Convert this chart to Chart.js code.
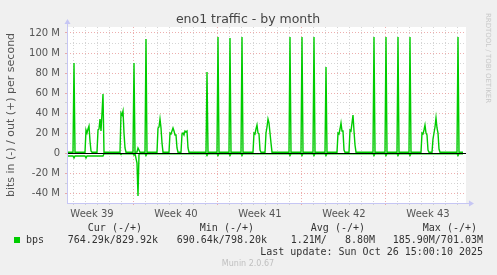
<!DOCTYPE html>
<html>
<head>
<meta charset="utf-8">
<script src="https://cdn.jsdelivr.net/npm/chart.js@4/dist/chart.umd.min.js"></script>
<style>
  html, body { margin: 0; padding: 0; background: #f0f0f0; }
  #wrap { width: 497px; height: 275px; }
</style>
</head>
<body>
<div id="wrap"><canvas id="grafico" width="497" height="275"></canvas></div>
<script>
// hours from left edge of the graph (Tue Sep 23 12:00), values in Mbit/s
const outHours = [0, 12, 14, 16, 36, 38, 40, 42, 44, 46, 48, 50, 60, 62, 64, 66, 68, 70, 72, 74,
  106, 108, 110, 112, 114, 116, 118, 132, 134, 136, 140, 142, 144, 146, 156, 158, 160,
  180, 182, 184, 186, 188, 190, 192, 204, 206, 208, 210, 212, 214, 216, 218, 220, 222,
  228, 230, 232, 234, 236, 238, 240, 242, 244, 278, 280, 282, 300, 302, 304, 324, 326, 328,
  348, 350, 352, 372, 374, 376, 378, 380, 382, 384, 386, 388, 396, 398, 400, 402, 404, 406, 408, 410,
  444, 446, 448, 468, 470, 472, 492, 494, 496, 516, 518, 520,
  540, 542, 544, 546, 548, 550, 552, 554, 556, 564, 566, 568, 570, 572, 574, 576, 578,
  612, 614, 616, 636, 638, 640, 660, 662, 664, 684, 686, 688,
  708, 710, 712, 714, 716, 718, 720, 722, 724, 730, 732, 734, 736, 738, 740, 742, 744, 746,
  780, 782, 784, 792]
const outValues = [0.8, 0.8, 90, 0.8, 0.8, 23, 20, 24, 27, 12, 2, 0.8, 0.8, 23, 24, 34, 22, 40, 59, 0.8,
  0.8, 40, 38, 42, 20, 5, 0.8, 0.8, 90, 0.8, 1, 5, 3, 0.8, 0.8, 114, 0.8,
  0.8, 25, 26, 34, 25, 10, 0.8, 0.8, 20, 19, 22, 25, 22, 18, 18, 5, 0.8,
  0.8, 19, 20, 18, 22, 21, 22, 5, 0.8, 0.8, 81, 0.8, 0.8, 116, 0.8, 0.8, 115, 0.8,
  0.8, 116, 0.8, 0.8, 20, 19, 24, 28, 20, 19, 3, 0.8, 0.8, 20, 26, 34, 30, 20, 10, 0.8,
  0.8, 116, 0.8, 0.8, 116, 0.8, 0.8, 116, 0.8, 0.8, 86, 0.8,
  0.8, 20, 19, 24, 30, 22, 22, 3, 0.8, 0.8, 23, 22, 30, 38, 22, 8, 0.8,
  0.8, 116, 0.8, 0.8, 116, 0.8, 0.8, 116, 0.8, 0.8, 116, 0.8,
  0.8, 20, 19, 23, 28, 20, 18, 3, 0.8, 0.8, 14, 20, 26, 35, 25, 20, 4, 0.8,
  0.8, 116, 0.8, 0.8]

const inHours = [0, 12, 14, 16, 36, 38, 40, 72, 74, 106, 108, 110,
  132, 134, 136, 140, 142, 144, 146, 156, 158, 160, 278, 280, 282, 300, 302, 304,
  324, 326, 328, 348, 350, 352, 444, 446, 448, 468, 470, 472, 492, 494, 496, 516, 518, 520,
  612, 614, 616, 636, 638, 640, 660, 662, 664, 684, 686, 688, 780, 782, 784, 792]
const inValues = [-3, -3, -5, -3, -3, -5, -3, -3, -0.7, -0.7, -1.5, -0.7,
  -0.7, -2, -0.7, -10, -43, -1.5, -0.7, -0.7, -2.5, -0.7, -0.7, -2.5, -0.7, -0.7, -2.5, -0.7,
  -0.7, -2.5, -0.7, -0.7, -2.5, -0.7, -0.7, -2.5, -0.7, -0.7, -2.5, -0.7, -0.7, -2.5, -0.7, -0.7, -2.5, -0.7,
  -0.7, -2.5, -0.7, -0.7, -2.5, -0.7, -0.7, -2.5, -0.7, -0.7, -2.5, -0.7, -0.7, -2.5, -0.7, -0.7]

const weekLabels = ['Week 39', 'Week 40', 'Week 41', 'Week 42', 'Week 43']
const weekLabelHours = [50, 218, 386, 554, 722]
const weekStartHours = [132, 300, 468, 636]
const yTickValues = [120, 100, 80, 60, 40, 20, 0, -20, -40]
const yTickLabels = ['120 M', '100 M', '80 M', '60 M', '40 M', '20 M', '0', '-20 M', '-40 M']

const legendHeader = ['Cur (-/+)', 'Min (-/+)', 'Avg (-/+)', 'Max (-/+)']
const legendValues = ['764.29k/829.92k', '690.64k/798.20k', '1.21M/   8.80M', '185.90M/701.03M']
const lastUpdate = 'Last update: Sun Oct 26 15:00:10 2025'

const verde = '#00cc00'
const gris = 'rgba(195,195,195,0.7)'
const rojo = 'rgba(230,140,140,0.7)'
const ejeColor = '#c6c6f4'

const toPoints = (xs, ys) => xs.map((x, i) => ({ x: x, y: ys[i] }))

const dayTicks = []
for (let h = 12; h < 798; h += 24) dayTicks.push(h)
const xTicks = dayTicks.concat(weekLabelHours).sort((a, b) => a - b)
const yGrid = []
for (let v = -40; v <= 120; v += 10) yGrid.push(v)

const munin = {
  id: 'munin',
  beforeDraw(chart) {
    const ctx = chart.ctx
    const a = chart.chartArea
    ctx.save()
    ctx.fillStyle = '#f0f0f0'
    ctx.fillRect(0, 0, chart.width, chart.height)
    ctx.fillStyle = '#ffffff'
    ctx.fillRect(a.left, a.top, a.right - a.left, a.bottom - a.top)
    ctx.restore()
  },
  afterDatasetsDraw(chart) {
    const ctx = chart.ctx
    const a = chart.chartArea
    const y0 = Math.round(chart.scales.y.getPixelForValue(0)) + 0.5
    ctx.save()
    ctx.strokeStyle = '#000000'
    ctx.lineWidth = 1
    ctx.beginPath()
    ctx.moveTo(a.left, y0)
    ctx.lineTo(a.right, y0)
    ctx.stroke()
    ctx.restore()
  },
  afterDraw(chart) {
    const ctx = chart.ctx
    const a = chart.chartArea
    ctx.save()
    // ejes con flechas
    ctx.strokeStyle = ejeColor
    ctx.fillStyle = ejeColor
    ctx.lineWidth = 1
    ctx.beginPath()
    ctx.moveTo(a.left + 0.5, a.bottom)
    ctx.lineTo(a.left + 0.5, a.top - 4)
    ctx.moveTo(a.left, a.bottom + 0.5)
    ctx.lineTo(a.right + 4, a.bottom + 0.5)
    ctx.stroke()
    ctx.beginPath()
    ctx.moveTo(a.left - 2.5, a.top - 3)
    ctx.lineTo(a.left + 3.5, a.top - 3)
    ctx.lineTo(a.left + 0.5, a.top - 8)
    ctx.fill()
    ctx.beginPath()
    ctx.moveTo(a.right + 3, a.bottom - 2.5)
    ctx.lineTo(a.right + 3, a.bottom + 3.5)
    ctx.lineTo(a.right + 8, a.bottom + 0.5)
    ctx.fill()

    // titulo
    ctx.fillStyle = '#444444'
    ctx.font = '12.5px "DejaVu Sans"'
    ctx.textAlign = 'center'
    ctx.textBaseline = 'middle'
    ctx.fillText('eno1 traffic - by month', 248, 20)

    // titulo eje y
    ctx.save()
    ctx.translate(11, 115)
    ctx.rotate(-Math.PI / 2)
    ctx.fillStyle = '#555555'
    ctx.font = '11px "DejaVu Sans"'
    ctx.fillText('bits in (-) / out (+) per second', 0, 0)
    ctx.restore()

    // rrdtool
    ctx.save()
    ctx.translate(488, 58)
    ctx.rotate(Math.PI / 2)
    ctx.fillStyle = '#c8c8c8'
    ctx.font = '7px "DejaVu Sans"'
    ctx.fillText('RRDTOOL / TOBI OETIKER', 0, 0)
    ctx.restore()

    // leyenda
    ctx.font = '10px "DejaVu Sans Mono"'
    ctx.fillStyle = '#333333'
    ctx.textAlign = 'right'
    const colRight = [142, 254, 365, 477]
    const valRight = [158, 267, 375, 483]
    legendHeader.forEach((t, i) => ctx.fillText(t, colRight[i], 228))
    legendValues.forEach((t, i) => ctx.fillText(t, valRight[i], 240))
    ctx.fillText(lastUpdate, 483, 252)
    ctx.textAlign = 'left'
    ctx.fillText('bps', 26, 240)
    ctx.fillStyle = verde
    ctx.fillRect(14, 237, 6, 6)

    ctx.fillStyle = '#c0c0c0'
    ctx.font = '8px "DejaVu Sans"'
    ctx.textAlign = 'center'
    ctx.fillText('Munin 2.0.67', 248, 264)
    ctx.restore()
  }
}

const config = {
  type: 'line',
  data: {
    datasets: [
      {
        label: 'out',
        data: toPoints(outHours, outValues),
        borderColor: verde,
        borderWidth: 1.4,
        pointRadius: 0,
        tension: 0,
        fill: false
      },
      {
        label: 'in',
        data: toPoints(inHours, inValues),
        borderColor: verde,
        borderWidth: 1.4,
        pointRadius: 0,
        tension: 0,
        fill: false
      }
    ]
  },
  options: {
    responsive: false,
    animation: false,
    events: [],
    layout: { padding: { left: 0, top: 27, right: 31, bottom: 56 } },
    plugins: { legend: { display: false }, title: { display: false }, tooltip: { enabled: false } },
    scales: {
      x: {
        type: 'linear',
        min: 0,
        max: 798,
        afterBuildTicks: (s) => { s.ticks = xTicks.map((v) => ({ value: v })) },
        afterFit: (s) => { s.height = 16 },
        grid: {
          color: (c) => {
            const v = c.tick ? c.tick.value : 0
            if (weekLabelHours.includes(v)) return 'rgba(0,0,0,0)'
            return weekStartHours.includes(v) ? rojo : gris
          },
          tickLength: 2
        },
        border: { display: false, dash: [1, 2] },
        ticks: {
          autoSkip: false,
          maxRotation: 0,
          padding: 3,
          color: '#555555',
          font: { family: 'DejaVu Sans', size: 10 },
          callback: (v) => {
            const i = weekLabelHours.indexOf(v)
            return i >= 0 ? weekLabels[i] : ''
          }
        }
      },
      y: {
        min: -50,
        max: 126,
        afterBuildTicks: (s) => { s.ticks = yGrid.map((v) => ({ value: v })) },
        afterFit: (s) => { s.width = 67 },
        grid: {
          color: (c) => (c.tick && c.tick.value % 20 === 0 ? rojo : gris),
          tickLength: 2
        },
        border: { display: false, dash: [1, 2] },
        ticks: {
          autoSkip: false,
          padding: 5,
          color: '#555555',
          font: { family: 'DejaVu Sans', size: 10 },
          callback: (v) => {
            const i = yTickValues.indexOf(v)
            return i >= 0 ? yTickLabels[i] : ''
          }
        }
      }
    }
  },
  plugins: [munin]
}

new Chart(document.getElementById('grafico'), config)
</script>
</body>
</html>
